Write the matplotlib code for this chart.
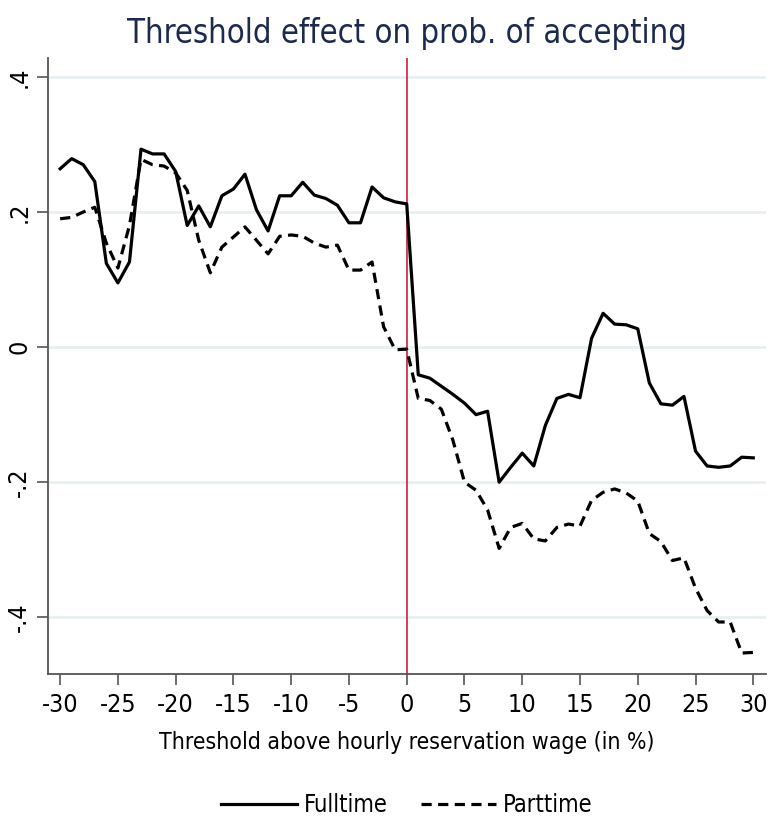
import matplotlib.pyplot as plt
import numpy as np

threshold = np.arange(-30, 31)

fulltime = [0.264, 0.279, 0.270, 0.245, 0.124, 0.095, 0.126, 0.293, 0.286, 0.286,
            0.260, 0.180, 0.209, 0.178, 0.224, 0.234, 0.256, 0.203, 0.172, 0.224,
            0.224, 0.244, 0.225, 0.220, 0.210, 0.184, 0.184, 0.237, 0.221, 0.215,
            0.212,
            -0.041, -0.046, -0.058, -0.070, -0.083, -0.100, -0.095, -0.200, -0.178, -0.157,
            -0.176, -0.116, -0.076, -0.070, -0.075, 0.013, 0.050, 0.034, 0.033, 0.027,
            -0.053, -0.084, -0.086, -0.073, -0.154, -0.176, -0.178, -0.176, -0.163, -0.164]

parttime = [0.190, 0.192, 0.200, 0.207, 0.154, 0.117, 0.180, 0.278, 0.270, 0.268,
            0.258, 0.232, 0.158, 0.110, 0.148, 0.163, 0.178, 0.158, 0.138, 0.164,
            0.166, 0.164, 0.154, 0.148, 0.151, 0.114, 0.114, 0.126, 0.030, -0.004,
            -0.003,
            -0.076, -0.079, -0.092, -0.138, -0.200, -0.212, -0.241, -0.298, -0.267, -0.261,
            -0.284, -0.287, -0.267, -0.262, -0.265, -0.227, -0.215, -0.210, -0.216, -0.228,
            -0.276, -0.288, -0.316, -0.312, -0.357, -0.390, -0.407, -0.407, -0.453, -0.452]

yticks = [-0.4, -0.2, 0, 0.2, 0.4]
ytick_labels = ["-.4", "-.2", "0", ".2", ".4"]
xticks = np.arange(-30, 31, 5)

plt.rcParams['font.family'] = ['DejaVu Sans']
plt.rcParams['font.stretch'] = 'condensed'

fig = plt.figure(figsize=(7.69, 8.22), dpi=100)
ax = fig.add_axes([48 / 769, 1 - 674 / 822, 718 / 769, 616 / 822])

for y in yticks:
    ax.axhline(y, color="#e8f0f1", lw=2, zorder=0)
ax.axvline(0, color="#cc1f3d", lw=1.2, zorder=1)

ax.plot(threshold, fulltime, color="black", lw=2.3, label="Fulltime")
ax.plot(threshold, parttime, color="black", lw=2.3, ls=(0, (3.2, 2.0)), label="Parttime")

ax.set_xlim(-31.05, 31.1)
ax.set_ylim(-0.484, 0.428)
ax.set_xticks(xticks)
ax.set_xticklabels([str(t) for t in xticks])
ax.set_yticks(yticks)
ax.set_yticklabels(ytick_labels, rotation=90, va="center")

for s in ["top", "right"]:
    ax.spines[s].set_visible(False)
for s in ["left", "bottom"]:
    ax.spines[s].set_color("#555555")
    ax.spines[s].set_linewidth(1.3)
ax.tick_params(axis="both", length=8, width=1.2, color="#555555", labelsize=18)
ax.tick_params(axis="x", pad=6)
ax.tick_params(axis="y", pad=4)

ax.set_xlabel("Threshold above hourly reservation wage (in %)", fontsize=16.5, labelpad=10)
ax.set_title("Threshold effect on prob. of accepting", fontsize=23.5, color="#1c2a4f", pad=11)

# legend is centred under the plot area, not the whole figure
fig.legend(loc="lower center", bbox_to_anchor=(407 / 769, -0.02), ncol=2, frameon=False,
           fontsize=17, handlelength=3.2, handletextpad=0.3, columnspacing=1.4)

plt.savefig("out.png", dpi=100)
